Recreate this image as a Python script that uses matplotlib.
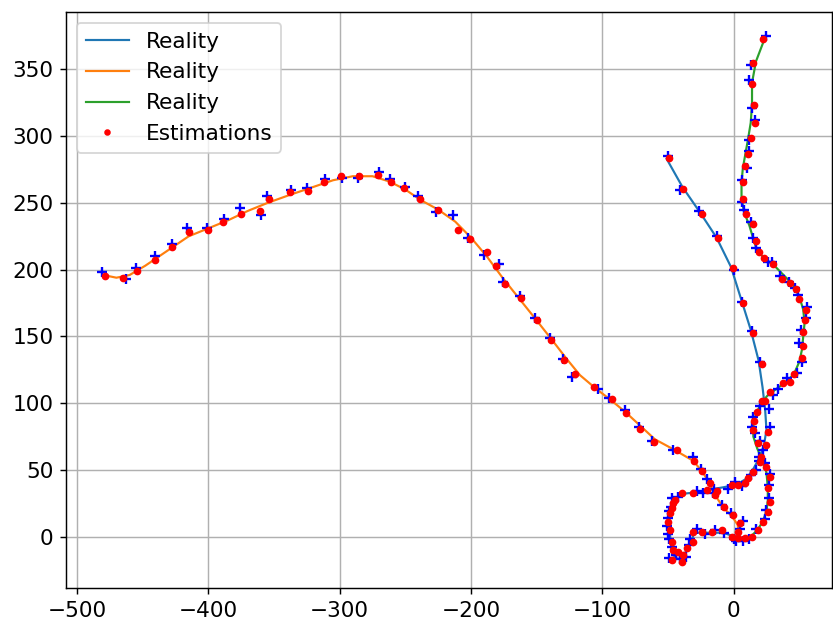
import matplotlib
matplotlib.use("Agg")
import matplotlib.pyplot as plt
import numpy as np

# trajectory 1 (blue)
bx_real = [-51, -39, -25, -13, -2, 6, 13, 19, 22, 24, 25, 23, 19, 14, 9, 2, -8, -20, -31, -40,
           -46, -49, -49, -48, -47, -44, -40, -37, -33, -31, -31, -24, -16, -8, -2, 3]
by_real = [283, 262, 242, 224, 202, 177, 155, 132, 112, 95, 80, 68, 58, 49, 43, 39, 37, 35, 33, 32,
           27, 19, 8, -3, -12, -16, -17, -12, -6, 0, 3, 3, 3, 3, 1, 0]
bx_est = [-49, -38.8, -24.4, -11.7, -0.3, 6.9, 15, 21.3, 24, 26.4, 24.4, 20.1, 15, 11.1, 8.6, 3.5,
          -1.5, -13, -20.6, -30.8, -39.6, -44.7, -46, -47.2, -48.5, -50, -48.5, -47.2, -46, -47.2,
          -42.2, -39.6, -38.3, -35.8, -30.8, -30.8, -24.4, -16.8, -9.1, -1.5, 3.5]
by_est = [284, 260.8, 242, 223.4, 201, 174.7, 152.3, 129, 102, 78.6, 68.7, 56.2, 48.7, 43.7, 40, 38.7,
          38.7, 34, 35, 32.5, 32.5, 27.5, 25, 21.2, 17.5, 11, 5, -3.7, -10, -17.4,
          -11.2, -18.7, -13.7, -8.7, -3.7, 3.7, 3.7, 3.7, 5, 0, -1.2]
bx_meas = [-50, -41, -26, -13, 0, 6, 14, 20, 27, 28, 22, 19, 17, 13, 6, 1, -4, -15, -23, -28,
           -42, -47, -48, -49, -50, -51, -50, -49, -47, -49, -44, -41, -36, -34, -33, -28, -22, -14, -7, 0, 2]
by_meas = [285, 260, 244, 225, 200, 176, 154, 131, 96, 82, 65, 57, 50, 46, 38, 41, 36, 36, 33, 34,
           30, 29, 22, 19, 14, 8, 2, -2, -8, -16, -14, -17, -15, -6, -2, 6, 2, 5, 3, -2, -3]

# trajectory 2 (orange)
ox_real = [-480, -470, -460, -448, -430, -415, -400, -385, -370, -355, -338, -320, -305, -290, -275,
           -262, -250, -238, -225, -212, -200, -188, -176, -163, -150, -138, -127, -117, -105, -93,
           -82, -71, -60, -45, -31, -24, -19, -14, -8, -1, 3, 4]
oy_real = [196, 194, 196, 203, 215, 225, 231, 237, 244, 250, 256, 262, 267, 270, 270,
           266, 260, 252, 245, 236, 224, 210, 194, 178, 162, 147, 133, 121, 111, 102,
           93, 83, 73, 65, 57, 49, 41, 31, 22, 15, 9, 3]
ox_est = [-479, -465, -454, -441, -428, -415, -400, -389, -375, -361, -354, -338, -324, -312, -299,
          -285, -271, -261, -251, -239, -225, -210, -201, -188, -181, -174, -162, -150, -139, -129,
          -121, -106, -93, -82, -71, -61, -43, -30, -24, -18, -14, -7, -0.3, 4.8, 3.7]
oy_est = [195, 194, 199, 207, 217, 228, 230, 236, 242, 244, 253, 258, 259, 266, 270,
          270, 271, 266, 261, 253, 245, 230, 223, 213, 203, 189, 179, 162, 147, 132,
          122, 112, 103, 93, 81, 71, 65, 57, 49, 40, 31, 22, 16, 10, 3.7]
ox_meas = [-481, -463, -455, -441, -428, -416, -401, -388, -376, -360, -355, -337, -325, -311, -298,
           -286, -270, -262, -250, -240, -227, -214, -202, -190, -179, -176, -163, -151, -140, -130,
           -123, -103, -95, -83, -72, -62, -46, -31, -25, -20, -16, -9, -2, 7, 5]
oy_meas = [198, 193, 201, 210, 219, 231, 231, 238, 246, 241, 255, 260, 261, 268, 269,
           269, 273, 268, 262, 255, 243, 241, 224, 211, 204, 191, 180, 164, 149, 133,
           120, 111, 104, 95, 82, 72, 65, 60, 51, 43, 33, 24, 18, 12, 6]

# trajectory 3 (green)
gx_real = [24, 17, 14, 14, 13, 11, 9, 7, 6, 6, 8, 12, 15, 18, 24, 31, 38, 45, 50, 53,
           54, 53, 52, 50, 46, 40, 33, 26, 21, 17, 15, 15, 18, 22, 25, 26, 26, 25, 22, 18, 13, 8, 3]
gy_real = [374, 356, 340, 324, 310, 298, 287, 276, 265, 253, 243, 233, 223, 214, 208, 203, 196, 189, 180, 170,
           160, 150, 140, 131, 122, 116, 111, 106, 100, 92, 83, 75, 66, 57, 48, 37, 27, 19, 11, 5, 0, -1.5, -1.5]
gx_est = [22.5, 15, 13.7, 15.7, 16.2, 13.2, 10.7, 8.6, 7.3, 7.3, 9.4, 15, 16.7, 19.5, 23.3, 30.2,
          36.5, 43, 47.5, 49.7, 54.8, 54.3, 52.5, 52.5, 51.8, 46.2, 42.9, 37.8, 27.6, 21.3,
          18, 15.5, 15, 18.8, 21, 25, 27.6, 26.4, 27.6, 26.4, 22.6, 18.8, 13.7, 8.6]
gy_est = [373, 355, 339, 323, 310, 299, 287, 277.5, 265.8, 252.8, 242, 234, 221.6, 213.4, 208.4, 204,
          192.7, 189.7, 185.5, 177.7, 169.7, 162.2, 153.5, 142.8, 133.5, 121.6, 116, 114.8, 108.6, 101.8,
          93.6, 86.8, 80.3, 69.9, 60, 52, 45, 36.2, 26.2, 18.7, 11.2, 5, 0, -1.2]
gx_meas = [25, 13, 12, 14, 16, 12, 12, 10, 6, 6, 8, 13, 15, 17, 26, 29, 35, 42, 47, 49,
           56, 55, 51, 50, 52, 48, 41, 34, 30, 20, 15, 14, 16, 20, 19, 24, 28, 27, 27, 25, 24, 17, 12, 7]
gy_meas = [375, 353, 342, 321, 312, 297, 289, 276, 267, 251, 245, 236, 224, 216, 206, 206, 195, 191, 186, 181,
           172, 164, 155, 145, 131, 123, 119, 111, 106, 98, 90, 82, 78, 72, 60, 55, 47, 39, 29, 20, 13, 6, -2, -3]

plt.rcParams["font.size"] = 12

fig = plt.figure(figsize=(833 / 130, 624 / 130), dpi=130)
ax = fig.add_axes([66 / 833, 36 / 624, 766 / 833, 576 / 624])

for xs, ys in [(bx_real, by_real), (ox_real, oy_real), (gx_real, gy_real)]:
    ax.plot(xs, ys, lw=1.2, label="Reality")

meas_x = bx_meas + ox_meas + gx_meas
meas_y = by_meas + oy_meas + gy_meas
ax.plot(meas_x, meas_y, "b+", linestyle="none", ms=6, mew=1.3)

est_x = bx_est + ox_est + gx_est
est_y = by_est + oy_est + gy_est
ax.plot(est_x, est_y, "r.", linestyle="none", ms=6.5, label="Estimations")

ax.set_xlim(-508.4, 74.9)
ax.set_ylim(-38.4, 393)
ax.grid(True)
ax.legend(loc="upper left", markerscale=0.8)

fig.savefig("out.png", dpi=130)
